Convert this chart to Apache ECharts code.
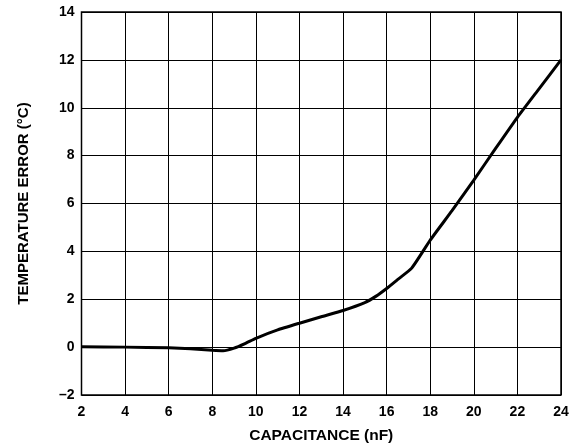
<!DOCTYPE html>
<html>
<head>
<meta charset="utf-8">
<script src="https://cdn.jsdelivr.net/npm/echarts@6/dist/echarts.min.js"></script>
<style>
html,body{margin:0;padding:0;background:#fff;}
#c{width:571px;height:444px;}
</style>
</head>
<body>
<div id="c"></div>
<script>
var capacitance = [2, 4, 6, 7, 8, 8.5, 9, 9.5, 10, 11, 12, 13, 14, 15, 15.5, 16, 16.5, 17.15, 18, 19, 20, 21, 22, 23, 24];
var tempError = [0.02, 0.0, -0.03, -0.07, -0.13, -0.15, -0.04, 0.15, 0.37, 0.72, 1.0, 1.27, 1.53, 1.86, 2.12, 2.45, 2.82, 3.3, 4.47, 5.7, 6.98, 8.3, 9.6, 10.8, 12.0];
var xTitle = 'CAPACITANCE (nF)';
var yTitle = 'TEMPERATURE ERROR (°C)';

var pts = capacitance.map(function (c, i) { return [c, tempError[i]]; });
var chart = echarts.init(document.getElementById('c'));
var font = '"Liberation Sans", Arial, sans-serif';
chart.setOption({
  animation: false,
  grid: { left: 81.5, right: 10, top: 12, bottom: 49, show: true, borderColor: '#000', borderWidth: 1.5,
    containLabel: false, outerBoundsMode: 'none' },
  xAxis: {
    type: 'value', min: 2, max: 24, interval: 2,
    name: xTitle, nameLocation: 'middle', nameGap: 33,
    nameTextStyle: { color: '#000', fontWeight: 'bold', fontSize: 15.5, fontFamily: font },
    axisLine: { show: false }, axisTick: { show: false },
    axisLabel: { color: '#000', fontWeight: 'bold', fontSize: 14, fontFamily: font, margin: 10 },
    splitLine: { show: true, lineStyle: { color: '#000', width: 1 } }
  },
  yAxis: {
    type: 'value', min: -2, max: 14, interval: 2,
    name: yTitle, nameLocation: 'middle', nameGap: 50, nameRotate: 90,
    nameTextStyle: { color: '#000', fontWeight: 'bold', fontSize: 15, fontFamily: font },
    axisLine: { show: false }, axisTick: { show: false },
    axisLabel: { color: '#000', fontWeight: 'bold', fontSize: 14, fontFamily: font, margin: 7,
      padding: [3, 0, 0, 0],
      formatter: function (v) { return v < 0 ? '\u2013' + Math.abs(v) : String(v); } },
    splitLine: { show: true, lineStyle: { color: '#000', width: 1 } }
  },
  series: [{
    type: 'line', data: pts, showSymbol: false, smooth: 0.15,
    lineStyle: { color: '#000', width: 3 }
  }]
});
</script>
</body>
</html>
